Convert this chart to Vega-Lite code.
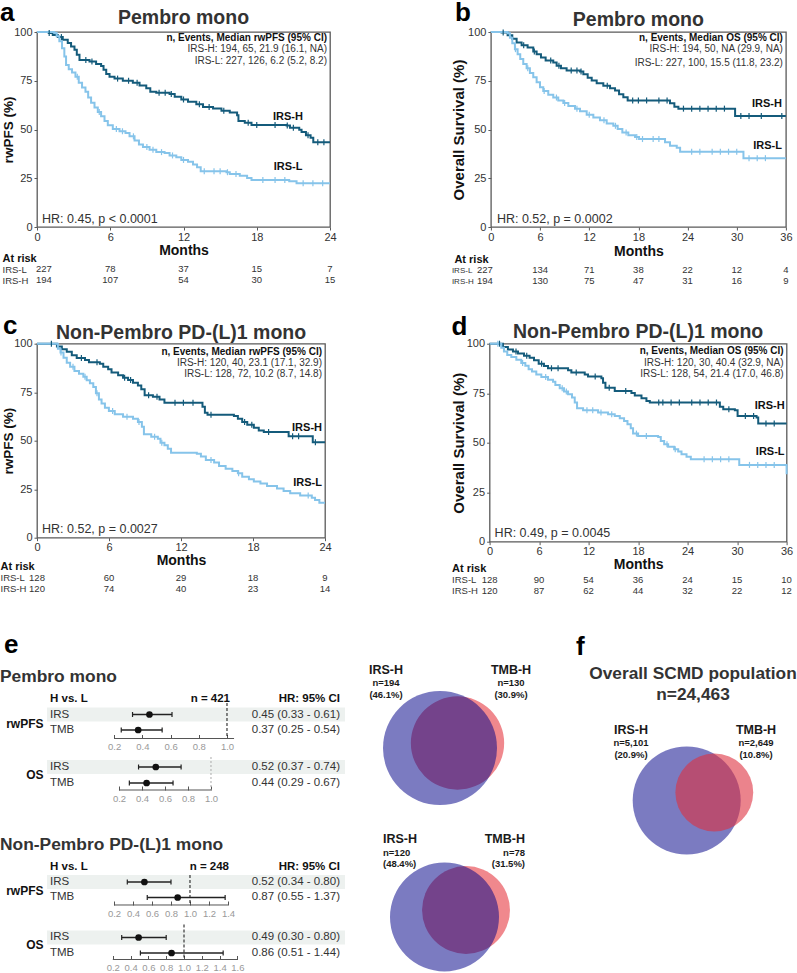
{
"$schema": "https://vega.github.io/schema/vega-lite/v6.json",
"background": "white",
"padding": {"left": 0, "top": 0, "right": 0, "bottom": 0},
"config": {
  "font": "Liberation Sans",
  "view": {"stroke": null},
  "axis": {"grid": false, "labelFont": "Liberation Sans", "titleFont": "Liberation Sans"},
  "title": {"font": "Liberation Sans"},
  "text": {"font": "Liberation Sans"}
},
"datasets": {
  "kmA": [
    {"g":"IRS-H","t":0,"s":100},{"g":"IRS-H","t":0.96,"s":99.5},{"g":"IRS-H","t":1.29,"s":98.5},{"g":"IRS-H","t":1.7,"s":97.4},{"g":"IRS-H","t":2.11,"s":96},{"g":"IRS-H","t":2.52,"s":94.3},{"g":"IRS-H","t":2.79,"s":92.6},{"g":"IRS-H","t":3.07,"s":90.9},{"g":"IRS-H","t":3.26,"s":88.3},{"g":"IRS-H","t":3.48,"s":85.7},{"g":"IRS-H","t":4.3,"s":84.9},{"g":"IRS-H","t":4.84,"s":83.6},{"g":"IRS-H","t":5.25,"s":82.6},{"g":"IRS-H","t":5.45,"s":80.6},{"g":"IRS-H","t":5.67,"s":78.5},{"g":"IRS-H","t":5.94,"s":77.1},{"g":"IRS-H","t":6.35,"s":76.1},{"g":"IRS-H","t":7.03,"s":75},{"g":"IRS-H","t":7.85,"s":74},{"g":"IRS-H","t":8.4,"s":72.6},{"g":"IRS-H","t":8.95,"s":71.1},{"g":"IRS-H","t":9.28,"s":69.4},{"g":"IRS-H","t":9.77,"s":68.8},{"g":"IRS-H","t":10.86,"s":68.2},{"g":"IRS-H","t":11.28,"s":66.8},{"g":"IRS-H","t":11.82,"s":65.4},{"g":"IRS-H","t":12.37,"s":64.2},{"g":"IRS-H","t":13.05,"s":63},{"g":"IRS-H","t":13.6,"s":61.6},{"g":"IRS-H","t":14.42,"s":60.8},{"g":"IRS-H","t":15.11,"s":59.6},{"g":"IRS-H","t":15.79,"s":58.7},{"g":"IRS-H","t":16.39,"s":57.3},{"g":"IRS-H","t":16.5,"s":54.4},{"g":"IRS-H","t":17.02,"s":53.4},{"g":"IRS-H","t":17.57,"s":52.3},{"g":"IRS-H","t":20.44,"s":52},{"g":"IRS-H","t":20.72,"s":50.9},{"g":"IRS-H","t":21.48,"s":49.9},{"g":"IRS-H","t":21.67,"s":48.7},{"g":"IRS-H","t":22.03,"s":47},{"g":"IRS-H","t":22.41,"s":45.8},{"g":"IRS-H","t":22.63,"s":43.5},{"g":"IRS-H","t":24,"s":43.5},
    {"g":"IRS-L","t":0,"s":100},{"g":"IRS-L","t":1.42,"s":99.5},{"g":"IRS-L","t":1.61,"s":97.8},{"g":"IRS-L","t":1.83,"s":95.2},{"g":"IRS-L","t":2.05,"s":91.7},{"g":"IRS-L","t":2.24,"s":87.4},{"g":"IRS-L","t":2.38,"s":83.1},{"g":"IRS-L","t":2.6,"s":80.9},{"g":"IRS-L","t":2.87,"s":79.2},{"g":"IRS-L","t":3.15,"s":77.1},{"g":"IRS-L","t":3.42,"s":74},{"g":"IRS-L","t":3.69,"s":71.6},{"g":"IRS-L","t":3.97,"s":69.4},{"g":"IRS-L","t":4.19,"s":66.4},{"g":"IRS-L","t":4.43,"s":63.7},{"g":"IRS-L","t":4.71,"s":61.3},{"g":"IRS-L","t":4.98,"s":59},{"g":"IRS-L","t":5.25,"s":56.8},{"g":"IRS-L","t":5.53,"s":54.4},{"g":"IRS-L","t":5.8,"s":52.2},{"g":"IRS-L","t":6.21,"s":50.3},{"g":"IRS-L","t":6.76,"s":49.1},{"g":"IRS-L","t":7.25,"s":48.2},{"g":"IRS-L","t":7.58,"s":46.5},{"g":"IRS-L","t":7.99,"s":44.4},{"g":"IRS-L","t":8.35,"s":42.3},{"g":"IRS-L","t":8.68,"s":41},{"g":"IRS-L","t":9.22,"s":39.6},{"g":"IRS-L","t":9.77,"s":38.4},{"g":"IRS-L","t":10.45,"s":37.9},{"g":"IRS-L","t":10.86,"s":36.7},{"g":"IRS-L","t":11.41,"s":35.8},{"g":"IRS-L","t":11.82,"s":34.4},{"g":"IRS-L","t":12.37,"s":33.4},{"g":"IRS-L","t":12.78,"s":32},{"g":"IRS-L","t":13.11,"s":30.6},{"g":"IRS-L","t":13.41,"s":28.6},{"g":"IRS-L","t":15.52,"s":28.1},{"g":"IRS-L","t":15.79,"s":27.2},{"g":"IRS-L","t":16.61,"s":26.3},{"g":"IRS-L","t":17.21,"s":25.1},{"g":"IRS-L","t":17.57,"s":24.1},{"g":"IRS-L","t":20.66,"s":23.4},{"g":"IRS-L","t":21.26,"s":22.4},{"g":"IRS-L","t":24,"s":22.4}
  ],
  "cA": [
    {"g":"IRS-H","t":1,"s":99.5},{"g":"IRS-H","t":2,"s":97.4},{"g":"IRS-H","t":4,"s":85.7},{"g":"IRS-H","t":4.5,"s":84.9},{"g":"IRS-H","t":6.6,"s":76.1},{"g":"IRS-H","t":7.5,"s":75},{"g":"IRS-H","t":8.2,"s":74},{"g":"IRS-H","t":10,"s":68.8},{"g":"IRS-H","t":10.5,"s":68.8},{"g":"IRS-H","t":11,"s":68.2},{"g":"IRS-H","t":12,"s":65.4},{"g":"IRS-H","t":13.3,"s":63},{"g":"IRS-H","t":14.1,"s":61.6},{"g":"IRS-H","t":15.3,"s":59.6},{"g":"IRS-H","t":17.3,"s":53.4},{"g":"IRS-H","t":18,"s":52.3},{"g":"IRS-H","t":19.5,"s":52.3},{"g":"IRS-H","t":20.5,"s":52},{"g":"IRS-H","t":21,"s":50.9},{"g":"IRS-H","t":22.2,"s":47},{"g":"IRS-H","t":23,"s":43.5},{"g":"IRS-H","t":23.5,"s":43.5},
    {"g":"IRS-L","t":3.3,"s":77.1},{"g":"IRS-L","t":5.1,"s":59},{"g":"IRS-L","t":6.5,"s":50.3},{"g":"IRS-L","t":7,"s":49.1},{"g":"IRS-L","t":7.9,"s":46.5},{"g":"IRS-L","t":9,"s":41},{"g":"IRS-L","t":9.5,"s":39.6},{"g":"IRS-L","t":10.2,"s":38.4},{"g":"IRS-L","t":11.1,"s":36.7},{"g":"IRS-L","t":12,"s":34.4},{"g":"IRS-L","t":13.7,"s":28.6},{"g":"IRS-L","t":14.5,"s":28.6},{"g":"IRS-L","t":15,"s":28.6},{"g":"IRS-L","t":15.6,"s":28.1},{"g":"IRS-L","t":16.3,"s":27.2},{"g":"IRS-L","t":18.5,"s":24.1},{"g":"IRS-L","t":19.5,"s":24.1},{"g":"IRS-L","t":20.3,"s":24.1},{"g":"IRS-L","t":21.8,"s":22.4},{"g":"IRS-L","t":22.6,"s":22.4},{"g":"IRS-L","t":23.4,"s":22.4}
  ],
  "kmB": [
    {"g":"IRS-H","t":0,"s":100},{"g":"IRS-H","t":1.3,"s":99.7},{"g":"IRS-H","t":2.04,"s":98.3},{"g":"IRS-H","t":2.61,"s":96.6},{"g":"IRS-H","t":3.14,"s":94.6},{"g":"IRS-H","t":3.75,"s":93.2},{"g":"IRS-H","t":4.48,"s":92},{"g":"IRS-H","t":5.17,"s":90},{"g":"IRS-H","t":5.58,"s":88.6},{"g":"IRS-H","t":6.11,"s":86.9},{"g":"IRS-H","t":6.68,"s":85.4},{"g":"IRS-H","t":7.61,"s":84.4},{"g":"IRS-H","t":8.02,"s":82.7},{"g":"IRS-H","t":8.55,"s":81.4},{"g":"IRS-H","t":9.24,"s":80.3},{"g":"IRS-H","t":10.87,"s":79.7},{"g":"IRS-H","t":11.28,"s":78.3},{"g":"IRS-H","t":11.81,"s":76.6},{"g":"IRS-H","t":12.3,"s":75.1},{"g":"IRS-H","t":12.91,"s":73.7},{"g":"IRS-H","t":13.72,"s":72.5},{"g":"IRS-H","t":14.54,"s":71.2},{"g":"IRS-H","t":15.15,"s":70},{"g":"IRS-H","t":15.64,"s":68.1},{"g":"IRS-H","t":16.16,"s":66.6},{"g":"IRS-H","t":16.69,"s":64.9},{"g":"IRS-H","t":21.86,"s":63.4},{"g":"IRS-H","t":22.39,"s":61.7},{"g":"IRS-H","t":22.88,"s":60.7},{"g":"IRS-H","t":29.8,"s":56.9},{"g":"IRS-H","t":36,"s":56.9},
    {"g":"IRS-L","t":0,"s":100},{"g":"IRS-L","t":2.04,"s":99.3},{"g":"IRS-L","t":2.32,"s":97.1},{"g":"IRS-L","t":2.61,"s":94.2},{"g":"IRS-L","t":2.93,"s":91.2},{"g":"IRS-L","t":3.26,"s":88.6},{"g":"IRS-L","t":3.58,"s":86.1},{"g":"IRS-L","t":3.95,"s":83.6},{"g":"IRS-L","t":4.36,"s":81.4},{"g":"IRS-L","t":4.76,"s":79},{"g":"IRS-L","t":5.17,"s":76.8},{"g":"IRS-L","t":5.58,"s":74.2},{"g":"IRS-L","t":5.99,"s":71.7},{"g":"IRS-L","t":6.39,"s":69.7},{"g":"IRS-L","t":7,"s":67.8},{"g":"IRS-L","t":7.61,"s":66.4},{"g":"IRS-L","t":8.22,"s":64.9},{"g":"IRS-L","t":8.84,"s":63.6},{"g":"IRS-L","t":9.45,"s":62},{"g":"IRS-L","t":10.26,"s":60.7},{"g":"IRS-L","t":10.87,"s":59.3},{"g":"IRS-L","t":11.69,"s":57.6},{"g":"IRS-L","t":12.5,"s":56.1},{"g":"IRS-L","t":13.31,"s":54.7},{"g":"IRS-L","t":14.13,"s":53.1},{"g":"IRS-L","t":14.94,"s":51.9},{"g":"IRS-L","t":15.47,"s":50.2},{"g":"IRS-L","t":16.04,"s":48.5},{"g":"IRS-L","t":16.77,"s":47.1},{"g":"IRS-L","t":17.59,"s":46.1},{"g":"IRS-L","t":18.08,"s":45.1},{"g":"IRS-L","t":21.25,"s":43.4},{"g":"IRS-L","t":21.86,"s":41.7},{"g":"IRS-L","t":22.68,"s":40.7},{"g":"IRS-L","t":23.09,"s":38.6},{"g":"IRS-L","t":30.82,"s":35.3},{"g":"IRS-L","t":36,"s":35.3}
  ],
  "cB": [
    {"g":"IRS-H","t":1.5,"s":99.7},{"g":"IRS-H","t":4,"s":93.2},{"g":"IRS-H","t":5.3,"s":90},{"g":"IRS-H","t":7.3,"s":85.4},{"g":"IRS-H","t":8.3,"s":82.7},{"g":"IRS-H","t":9.8,"s":80.3},{"g":"IRS-H","t":10.5,"s":80.3},{"g":"IRS-H","t":11,"s":79.7},{"g":"IRS-H","t":14.2,"s":72.5},{"g":"IRS-H","t":17.3,"s":64.9},{"g":"IRS-H","t":18,"s":64.9},{"g":"IRS-H","t":19,"s":64.9},{"g":"IRS-H","t":20.5,"s":64.9},{"g":"IRS-H","t":21.5,"s":64.9},{"g":"IRS-H","t":23.5,"s":60.7},{"g":"IRS-H","t":24.5,"s":60.7},{"g":"IRS-H","t":25.5,"s":60.7},{"g":"IRS-H","t":26.5,"s":60.7},{"g":"IRS-H","t":27.5,"s":60.7},{"g":"IRS-H","t":28.5,"s":60.7},{"g":"IRS-H","t":30.5,"s":56.9},{"g":"IRS-H","t":31.5,"s":56.9},{"g":"IRS-H","t":33,"s":56.9},{"g":"IRS-H","t":35.5,"s":56.9},
    {"g":"IRS-L","t":3,"s":91.2},{"g":"IRS-L","t":4.5,"s":81.4},{"g":"IRS-L","t":6.5,"s":69.7},{"g":"IRS-L","t":8,"s":66.4},{"g":"IRS-L","t":9,"s":63.6},{"g":"IRS-L","t":10.5,"s":60.7},{"g":"IRS-L","t":12,"s":57.6},{"g":"IRS-L","t":13.8,"s":54.7},{"g":"IRS-L","t":15.2,"s":51.9},{"g":"IRS-L","t":16.5,"s":48.5},{"g":"IRS-L","t":17.8,"s":46.1},{"g":"IRS-L","t":18.5,"s":45.1},{"g":"IRS-L","t":19.8,"s":45.1},{"g":"IRS-L","t":20.5,"s":45.1},{"g":"IRS-L","t":24.5,"s":38.6},{"g":"IRS-L","t":25.5,"s":38.6},{"g":"IRS-L","t":27,"s":38.6},{"g":"IRS-L","t":28,"s":38.6},{"g":"IRS-L","t":29,"s":38.6},{"g":"IRS-L","t":30,"s":38.6},{"g":"IRS-L","t":31.5,"s":35.3},{"g":"IRS-L","t":32.5,"s":35.3},{"g":"IRS-L","t":33.5,"s":35.3}
  ],
  "kmC": [
    {"g":"IRS-H","t":0,"s":100},{"g":"IRS-H","t":1.66,"s":98.5},{"g":"IRS-H","t":2.07,"s":97.1},{"g":"IRS-H","t":2.48,"s":95.9},{"g":"IRS-H","t":2.9,"s":94},{"g":"IRS-H","t":3.31,"s":92.6},{"g":"IRS-H","t":4,"s":91.6},{"g":"IRS-H","t":4.33,"s":90.5},{"g":"IRS-H","t":5.24,"s":89.7},{"g":"IRS-H","t":5.52,"s":88.1},{"g":"IRS-H","t":5.93,"s":86.8},{"g":"IRS-H","t":6.21,"s":85.1},{"g":"IRS-H","t":6.76,"s":83.7},{"g":"IRS-H","t":7.17,"s":82.5},{"g":"IRS-H","t":7.59,"s":81.3},{"g":"IRS-H","t":8,"s":79.9},{"g":"IRS-H","t":8.41,"s":78.5},{"g":"IRS-H","t":8.69,"s":76.5},{"g":"IRS-H","t":8.97,"s":73.4},{"g":"IRS-H","t":9.66,"s":72.7},{"g":"IRS-H","t":10.21,"s":71.3},{"g":"IRS-H","t":10.62,"s":69.6},{"g":"IRS-H","t":13.79,"s":67.5},{"g":"IRS-H","t":13.99,"s":64.4},{"g":"IRS-H","t":14.21,"s":63.4},{"g":"IRS-H","t":16.41,"s":62.7},{"g":"IRS-H","t":16.74,"s":61.3},{"g":"IRS-H","t":17.1,"s":59.6},{"g":"IRS-H","t":17.52,"s":58.2},{"g":"IRS-H","t":18.07,"s":56.7},{"g":"IRS-H","t":18.48,"s":55.3},{"g":"IRS-H","t":18.9,"s":54.5},{"g":"IRS-H","t":20.97,"s":52.3},{"g":"IRS-H","t":22.98,"s":49.2},{"g":"IRS-H","t":24,"s":49.2},
    {"g":"IRS-L","t":0,"s":100},{"g":"IRS-L","t":1.74,"s":97.4},{"g":"IRS-L","t":1.96,"s":95.4},{"g":"IRS-L","t":2.21,"s":92.8},{"g":"IRS-L","t":2.48,"s":90.2},{"g":"IRS-L","t":2.76,"s":88.1},{"g":"IRS-L","t":3.12,"s":85.9},{"g":"IRS-L","t":3.5,"s":84.5},{"g":"IRS-L","t":3.86,"s":83},{"g":"IRS-L","t":4.14,"s":81.1},{"g":"IRS-L","t":4.41,"s":79.6},{"g":"IRS-L","t":4.69,"s":77.7},{"g":"IRS-L","t":4.91,"s":74.4},{"g":"IRS-L","t":5.16,"s":71.3},{"g":"IRS-L","t":5.38,"s":69.2},{"g":"IRS-L","t":5.66,"s":67},{"g":"IRS-L","t":5.99,"s":65.3},{"g":"IRS-L","t":6.48,"s":63.6},{"g":"IRS-L","t":7.17,"s":62.4},{"g":"IRS-L","t":8,"s":61.3},{"g":"IRS-L","t":8.41,"s":59.6},{"g":"IRS-L","t":8.74,"s":57.2},{"g":"IRS-L","t":8.91,"s":53.3},{"g":"IRS-L","t":9.52,"s":52.1},{"g":"IRS-L","t":10.07,"s":51},{"g":"IRS-L","t":10.29,"s":49},{"g":"IRS-L","t":10.62,"s":47.6},{"g":"IRS-L","t":10.9,"s":45.9},{"g":"IRS-L","t":11.17,"s":43.8},{"g":"IRS-L","t":13.32,"s":43.3},{"g":"IRS-L","t":13.66,"s":41.8},{"g":"IRS-L","t":14.07,"s":40},{"g":"IRS-L","t":14.76,"s":38.7},{"g":"IRS-L","t":15.17,"s":36.9},{"g":"IRS-L","t":15.72,"s":35.6},{"g":"IRS-L","t":16.28,"s":34.4},{"g":"IRS-L","t":16.74,"s":33.2},{"g":"IRS-L","t":17.1,"s":31.4},{"g":"IRS-L","t":17.66,"s":30.1},{"g":"IRS-L","t":18.07,"s":29},{"g":"IRS-L","t":18.62,"s":28},{"g":"IRS-L","t":19.17,"s":26.6},{"g":"IRS-L","t":20,"s":25.3},{"g":"IRS-L","t":20.55,"s":24.1},{"g":"IRS-L","t":21.1,"s":22.9},{"g":"IRS-L","t":21.93,"s":21.8},{"g":"IRS-L","t":22.9,"s":20.6},{"g":"IRS-L","t":23.17,"s":19.4},{"g":"IRS-L","t":23.53,"s":18},{"g":"IRS-L","t":24,"s":18}
  ],
  "cC": [
    {"g":"IRS-H","t":1.2,"s":100},{"g":"IRS-H","t":3.7,"s":92.6},{"g":"IRS-H","t":5,"s":90.5},{"g":"IRS-H","t":7.3,"s":82.5},{"g":"IRS-H","t":7.8,"s":81.3},{"g":"IRS-H","t":9.3,"s":73.4},{"g":"IRS-H","t":10,"s":72.7},{"g":"IRS-H","t":11.5,"s":69.6},{"g":"IRS-H","t":12.2,"s":69.6},{"g":"IRS-H","t":13,"s":69.6},{"g":"IRS-H","t":14.5,"s":63.4},{"g":"IRS-H","t":17.3,"s":59.6},{"g":"IRS-H","t":17.9,"s":58.2},{"g":"IRS-H","t":19.3,"s":54.5},{"g":"IRS-H","t":21.3,"s":52.3},{"g":"IRS-H","t":21.8,"s":52.3},{"g":"IRS-H","t":23.2,"s":49.2},
    {"g":"IRS-L","t":2,"s":95.4},{"g":"IRS-L","t":3,"s":88.1},{"g":"IRS-L","t":4,"s":83},{"g":"IRS-L","t":5,"s":74.4},{"g":"IRS-L","t":6.3,"s":65.3},{"g":"IRS-L","t":7.5,"s":62.4},{"g":"IRS-L","t":8.5,"s":59.6},{"g":"IRS-L","t":9.8,"s":52.1},{"g":"IRS-L","t":10.4,"s":49},{"g":"IRS-L","t":14.5,"s":40},{"g":"IRS-L","t":16.8,"s":33.2},{"g":"IRS-L","t":22.6,"s":21.8}
  ],
  "kmD": [
    {"g":"IRS-H","t":0,"s":100},{"g":"IRS-H","t":1.62,"s":98.3},{"g":"IRS-H","t":2.22,"s":97.1},{"g":"IRS-H","t":2.83,"s":96},{"g":"IRS-H","t":3.44,"s":95},{"g":"IRS-H","t":4.17,"s":93.9},{"g":"IRS-H","t":4.85,"s":92.9},{"g":"IRS-H","t":5.38,"s":91.6},{"g":"IRS-H","t":5.95,"s":89.9},{"g":"IRS-H","t":6.59,"s":88.7},{"g":"IRS-H","t":7.08,"s":87.6},{"g":"IRS-H","t":9.51,"s":86.6},{"g":"IRS-H","t":9.91,"s":85.4},{"g":"IRS-H","t":11.53,"s":84.5},{"g":"IRS-H","t":11.93,"s":83.4},{"g":"IRS-H","t":13.55,"s":82.5},{"g":"IRS-H","t":13.75,"s":80.3},{"g":"IRS-H","t":14.04,"s":77.8},{"g":"IRS-H","t":15.17,"s":76.1},{"g":"IRS-H","t":17.19,"s":75.1},{"g":"IRS-H","t":17.6,"s":73.8},{"g":"IRS-H","t":18.41,"s":72.4},{"g":"IRS-H","t":19.01,"s":71.1},{"g":"IRS-H","t":19.42,"s":70.3},{"g":"IRS-H","t":27.91,"s":68.1},{"g":"IRS-H","t":28.32,"s":66.9},{"g":"IRS-H","t":29.73,"s":66.4},{"g":"IRS-H","t":30.06,"s":63.5},{"g":"IRS-H","t":32.36,"s":62.7},{"g":"IRS-H","t":32.56,"s":59.7},{"g":"IRS-H","t":36,"s":59.7},
    {"g":"IRS-L","t":0,"s":100},{"g":"IRS-L","t":1.42,"s":98},{"g":"IRS-L","t":1.74,"s":96},{"g":"IRS-L","t":2.14,"s":94.3},{"g":"IRS-L","t":2.63,"s":93.3},{"g":"IRS-L","t":3.24,"s":91.9},{"g":"IRS-L","t":3.84,"s":90.3},{"g":"IRS-L","t":4.33,"s":88.9},{"g":"IRS-L","t":4.73,"s":87.1},{"g":"IRS-L","t":5.14,"s":85.9},{"g":"IRS-L","t":5.66,"s":84.5},{"g":"IRS-L","t":6.27,"s":83.2},{"g":"IRS-L","t":7.08,"s":81.8},{"g":"IRS-L","t":7.69,"s":80.8},{"g":"IRS-L","t":7.97,"s":79.2},{"g":"IRS-L","t":8.5,"s":77.5},{"g":"IRS-L","t":9.02,"s":75.8},{"g":"IRS-L","t":9.51,"s":74.5},{"g":"IRS-L","t":9.99,"s":72.8},{"g":"IRS-L","t":10.32,"s":70.3},{"g":"IRS-L","t":10.6,"s":67.4},{"g":"IRS-L","t":11.33,"s":66.4},{"g":"IRS-L","t":13.15,"s":65.2},{"g":"IRS-L","t":14.36,"s":64.4},{"g":"IRS-L","t":15.17,"s":63.5},{"g":"IRS-L","t":15.78,"s":62.4},{"g":"IRS-L","t":16.3,"s":61},{"g":"IRS-L","t":16.71,"s":59.3},{"g":"IRS-L","t":17.11,"s":57.3},{"g":"IRS-L","t":17.39,"s":54.6},{"g":"IRS-L","t":18,"s":53.4},{"g":"IRS-L","t":20.43,"s":52.9},{"g":"IRS-L","t":20.75,"s":50.9},{"g":"IRS-L","t":21.16,"s":49.2},{"g":"IRS-L","t":21.64,"s":47.9},{"g":"IRS-L","t":22.37,"s":46.7},{"g":"IRS-L","t":22.86,"s":45.5},{"g":"IRS-L","t":23.26,"s":44.2},{"g":"IRS-L","t":23.87,"s":42.9},{"g":"IRS-L","t":24.39,"s":41.7},{"g":"IRS-L","t":30.26,"s":38.8},{"g":"IRS-L","t":36,"s":34.1}
  ],
  "cD": [
    {"g":"IRS-H","t":1.2,"s":100},{"g":"IRS-H","t":3.2,"s":96},{"g":"IRS-H","t":4.5,"s":93.9},{"g":"IRS-H","t":6.3,"s":89.9},{"g":"IRS-H","t":7.5,"s":87.6},{"g":"IRS-H","t":8.3,"s":87.6},{"g":"IRS-H","t":10.5,"s":85.4},{"g":"IRS-H","t":12.8,"s":83.4},{"g":"IRS-H","t":14.5,"s":77.8},{"g":"IRS-H","t":16.5,"s":76.1},{"g":"IRS-H","t":20.5,"s":70.3},{"g":"IRS-H","t":21,"s":70.3},{"g":"IRS-H","t":22,"s":70.3},{"g":"IRS-H","t":23,"s":70.3},{"g":"IRS-H","t":24.5,"s":70.3},{"g":"IRS-H","t":25.5,"s":70.3},{"g":"IRS-H","t":26.5,"s":70.3},{"g":"IRS-H","t":27.5,"s":70.3},{"g":"IRS-H","t":29,"s":66.9},{"g":"IRS-H","t":31,"s":63.5},{"g":"IRS-H","t":32,"s":63.5},{"g":"IRS-H","t":33.5,"s":59.7},{"g":"IRS-H","t":34.5,"s":59.7},
    {"g":"IRS-L","t":1,"s":100},{"g":"IRS-L","t":4,"s":90.3},{"g":"IRS-L","t":6.8,"s":83.2},{"g":"IRS-L","t":8.8,"s":77.5},{"g":"IRS-L","t":9.3,"s":75.8},{"g":"IRS-L","t":11.8,"s":66.4},{"g":"IRS-L","t":12.5,"s":66.4},{"g":"IRS-L","t":13.5,"s":65.2},{"g":"IRS-L","t":14.8,"s":64.4},{"g":"IRS-L","t":17.8,"s":54.6},{"g":"IRS-L","t":19,"s":53.4},{"g":"IRS-L","t":21.5,"s":49.2},{"g":"IRS-L","t":22.5,"s":46.7},{"g":"IRS-L","t":26,"s":41.7},{"g":"IRS-L","t":27,"s":41.7},{"g":"IRS-L","t":28,"s":41.7},{"g":"IRS-L","t":29,"s":41.7},{"g":"IRS-L","t":31.5,"s":38.8},{"g":"IRS-L","t":32.5,"s":38.8},{"g":"IRS-L","t":33.5,"s":38.8},{"g":"IRS-L","t":34.5,"s":38.8}
  ],
  "riskA": [
    {"g":"IRS-L","t":0,"n":227},{"g":"IRS-L","t":6,"n":78},{"g":"IRS-L","t":12,"n":37},{"g":"IRS-L","t":18,"n":15},{"g":"IRS-L","t":24,"n":7},
    {"g":"IRS-H","t":0,"n":194},{"g":"IRS-H","t":6,"n":107},{"g":"IRS-H","t":12,"n":54},{"g":"IRS-H","t":18,"n":30},{"g":"IRS-H","t":24,"n":15}
  ],
  "riskB": [
    {"g":"IRS-L","t":0,"n":227},{"g":"IRS-L","t":6,"n":134},{"g":"IRS-L","t":12,"n":71},{"g":"IRS-L","t":18,"n":38},{"g":"IRS-L","t":24,"n":22},{"g":"IRS-L","t":30,"n":12},{"g":"IRS-L","t":36,"n":4},
    {"g":"IRS-H","t":0,"n":194},{"g":"IRS-H","t":6,"n":130},{"g":"IRS-H","t":12,"n":75},{"g":"IRS-H","t":18,"n":47},{"g":"IRS-H","t":24,"n":31},{"g":"IRS-H","t":30,"n":16},{"g":"IRS-H","t":36,"n":9}
  ],
  "riskC": [
    {"g":"IRS-L","t":0,"n":128},{"g":"IRS-L","t":6,"n":60},{"g":"IRS-L","t":12,"n":29},{"g":"IRS-L","t":18,"n":18},{"g":"IRS-L","t":24,"n":9},
    {"g":"IRS-H","t":0,"n":120},{"g":"IRS-H","t":6,"n":74},{"g":"IRS-H","t":12,"n":40},{"g":"IRS-H","t":18,"n":23},{"g":"IRS-H","t":24,"n":14}
  ],
  "riskD": [
    {"g":"IRS-L","t":0,"n":128},{"g":"IRS-L","t":6,"n":90},{"g":"IRS-L","t":12,"n":54},{"g":"IRS-L","t":18,"n":36},{"g":"IRS-L","t":24,"n":24},{"g":"IRS-L","t":30,"n":15},{"g":"IRS-L","t":36,"n":10},
    {"g":"IRS-H","t":0,"n":120},{"g":"IRS-H","t":6,"n":87},{"g":"IRS-H","t":12,"n":62},{"g":"IRS-H","t":18,"n":44},{"g":"IRS-H","t":24,"n":32},{"g":"IRS-H","t":30,"n":22},{"g":"IRS-H","t":36,"n":12}
  ],
  "fPR": [{"row":"IRS","hr":0.45,"lo":0.33,"hi":0.61,"ci":"0.45 (0.33 - 0.61)"},{"row":"TMB","hr":0.37,"lo":0.25,"hi":0.54,"ci":"0.37 (0.25 - 0.54)"}],
  "fPO": [{"row":"IRS","hr":0.52,"lo":0.37,"hi":0.74,"ci":"0.52 (0.37 - 0.74)"},{"row":"TMB","hr":0.44,"lo":0.29,"hi":0.67,"ci":"0.44 (0.29 - 0.67)"}],
  "fNR": [{"row":"IRS","hr":0.52,"lo":0.34,"hi":0.8,"ci":"0.52 (0.34 - 0.80)"},{"row":"TMB","hr":0.87,"lo":0.55,"hi":1.37,"ci":"0.87 (0.55 - 1.37)"}],
  "fNO": [{"row":"IRS","hr":0.49,"lo":0.3,"hi":0.8,"ci":"0.49 (0.30 - 0.80)"},{"row":"TMB","hr":0.86,"lo":0.51,"hi":1.44,"ci":"0.86 (0.51 - 1.44)"}],
  "vE": [
    {"d":"e1","set":"IRS-H","n":194,"cx":80,"cy":57.5,"nl":"n=194","pct":"(46.1%)"},{"d":"e1","set":"TMB-H","n":130,"cx":97.5,"cy":52.5,"nl":"n=130","pct":"(30.9%)"},
    {"d":"e2","set":"IRS-H","n":120,"cx":84.5,"cy":226.5,"nl":"n=120","pct":"(48.4%)"},{"d":"e2","set":"TMB-H","n":78,"cx":106,"cy":219.5,"nl":"n=78","pct":"(31.5%)"}
  ],
  "vF": [{"set":"IRS-H","n":5101,"cx":121.7,"cy":110,"nl":"n=5,101","pct":"(20.9%)"},{"set":"TMB-H","n":2649,"cx":149.3,"cy":102,"nl":"n=2,649","pct":"(10.8%)"}]
},
"resolve": {"scale": {"size": "independent"}},
"spacing": 35.5,
"vconcat": [
 {"spacing": 25.7, "vconcat": [
  {"spacing": 113.9, "hconcat": [
   {"bounds": "flush", "spacing": 36.8,
    "title": {"text": "a", "anchor": "start", "frame": "group", "dx": -37, "offset": -40.3, "baseline": "alphabetic", "fontSize": 26, "fontWeight": "bold", "color": "#000000"},
    "vconcat": [
     {"width": 293, "height": 195,
      "view": {"stroke": "#5a5a5a", "strokeWidth": 1.3},
      "title": {"text": "Pembro mono", "anchor": "middle", "frame": "group", "baseline": "alphabetic", "offset": -17.2, "fontSize": 19.5, "fontWeight": "bold", "color": "#333333"},
      "layer": [
       {"data": {"name": "kmA"}, "mark": {"type": "line", "interpolate": "step-after", "strokeWidth": 2},
        "encoding": {
         "x": {"field": "t", "type": "quantitative", "scale": {"domain": [0, 24], "nice": false, "zero": false},
               "axis": {"values": [0, 6, 12, 18, 24], "title": "Months", "titleFontSize": 14, "titleFontWeight": "bold", "titleColor": "#111111", "titlePadding": 1, "labelFontSize": 11, "labelColor": "#333333", "labelPadding": 1, "tickSize": 3, "tickColor": "#5a5a5a", "domain": false, "labelFlush": false, "labelOverlap": false}},
         "y": {"field": "s", "type": "quantitative", "scale": {"domain": [0, 100], "nice": false},
               "axis": {"values": [0, 25, 50, 75, 100], "title": "rwPFS (%)", "titleFontSize": 13.5, "titleFontWeight": "bold", "titleColor": "#111111", "titleX": -29, "titleBaseline": "middle", "labelFontSize": 11, "labelColor": "#333333", "labelPadding": 2, "tickSize": 3, "tickColor": "#5a5a5a", "domain": false}},
         "color": {"field": "g", "type": "nominal", "scale": {"domain": ["IRS-H", "IRS-L"], "range": ["#145b7b", "#86c4ea"]}, "legend": null}}},
       {"data": {"name": "cA"}, "mark": {"type": "tick", "orient": "vertical", "size": 6, "thickness": 1.2, "opacity": 1},
        "encoding": {"x": {"field": "t", "type": "quantitative"}, "y": {"field": "s", "type": "quantitative"}, "color": {"field": "g", "type": "nominal", "legend": null}}},
       {"data": {"values": [{}]}, "mark": {"type": "text", "align": "right", "baseline": "middle", "fontSize": 10, "fontWeight": "bold", "color": "#111111", "dx": -3},
        "encoding": {"x": {"datum": 24}, "y": {"datum": 96.8}, "text": {"value": "n, Events, Median rwPFS  (95% CI)"}}},
       {"data": {"values": [{}]}, "mark": {"type": "text", "align": "right", "baseline": "middle", "fontSize": 10, "color": "#333333", "dx": -3},
        "encoding": {"x": {"datum": 24}, "y": {"datum": 91.1}, "text": {"value": "IRS-H: 194, 65, 21.9 (16.1, NA)"}}},
       {"data": {"values": [{}]}, "mark": {"type": "text", "align": "right", "baseline": "middle", "fontSize": 10, "color": "#333333", "dx": -3},
        "encoding": {"x": {"datum": 24}, "y": {"datum": 85.1}, "text": {"value": "IRS-L: 227, 126, 6.2 (5.2, 8.2)"}}},
       {"data": {"values": [{}]}, "mark": {"type": "text", "align": "left", "baseline": "middle", "fontSize": 12.5, "color": "#333333", "dx": 5},
        "encoding": {"x": {"datum": 0}, "y": {"datum": 3.9}, "text": {"value": "HR: 0.45, p < 0.0001"}}},
       {"data": {"values": [{}]}, "mark": {"type": "text", "align": "center", "baseline": "middle", "fontSize": 11, "fontWeight": "bold", "color": "#111111"},
        "encoding": {"x": {"datum": 20.56}, "y": {"datum": 56.4}, "text": {"value": "IRS-H"}}},
       {"data": {"values": [{}]}, "mark": {"type": "text", "align": "center", "baseline": "middle", "fontSize": 11, "fontWeight": "bold", "color": "#111111"},
        "encoding": {"x": {"datum": 20.56}, "y": {"datum": 30.9}, "text": {"value": "IRS-L"}}}
      ]},
     {"width": 293, "height": 22, "data": {"name": "riskA"},
      "layer": [
       {"transform": [{"filter": "datum.t > 0"}], "mark": {"type": "text", "fontSize": 9.5, "color": "#333333", "baseline": "middle", "align": "center"},
        "encoding": {
         "x": {"field": "t", "type": "quantitative", "scale": {"domain": [0, 24], "nice": false, "zero": false}, "axis": null},
         "y": {"field": "g", "type": "nominal", "scale": {"type": "point", "domain": ["IRS-L", "IRS-H"], "padding": 0.5},
               "axis": {"title": "At risk", "titleAngle": 0, "titleAlign": "left", "titleBaseline": "middle", "titleX": -35, "titleY": -5.5, "titleFontSize": 11, "titleFontWeight": "bold", "titleColor": "#111111", "labelAlign": "left", "labelBaseline": "middle", "labelPadding": 35, "labelFontSize": 9.5, "labelColor": "#333333", "ticks": false, "tickSize": 0, "domain": false}},
         "text": {"field": "n", "type": "quantitative"}}},
       {"transform": [{"filter": "datum.t == 0"}], "mark": {"type": "text", "fontSize": 9.5, "color": "#333333", "baseline": "middle", "align": "left", "dx": -1},
        "encoding": {"x": {"field": "t", "type": "quantitative", "axis": null}, "y": {"field": "g", "type": "nominal"}, "text": {"field": "n", "type": "quantitative"}}}
      ]}
    ]},
   {"bounds": "flush", "spacing": 37.5,
    "title": {"text": "b", "anchor": "start", "frame": "group", "dx": -36, "offset": -38, "baseline": "alphabetic", "fontSize": 26, "fontWeight": "bold", "color": "#000000"},
    "vconcat": [
     {"width": 295, "height": 195,
      "view": {"stroke": "#5a5a5a", "strokeWidth": 1.3},
      "title": {"text": "Pembro mono", "anchor": "middle", "frame": "group", "baseline": "alphabetic", "offset": -19.5, "fontSize": 19.5, "fontWeight": "bold", "color": "#333333"},
      "layer": [
       {"data": {"name": "kmB"}, "mark": {"type": "line", "interpolate": "step-after", "strokeWidth": 2},
        "encoding": {
         "x": {"field": "t", "type": "quantitative", "scale": {"domain": [0, 36], "nice": false, "zero": false},
               "axis": {"values": [0, 6, 12, 18, 24, 30, 36], "title": "Months", "titleFontSize": 14, "titleFontWeight": "bold", "titleColor": "#111111", "titlePadding": 2, "labelFontSize": 11, "labelColor": "#333333", "labelPadding": 1, "tickSize": 3, "tickColor": "#5a5a5a", "domain": false, "labelFlush": false, "labelOverlap": false}},
         "y": {"field": "s", "type": "quantitative", "scale": {"domain": [0, 100], "nice": false},
               "axis": {"values": [0, 25, 50, 75, 100], "title": "Overall Survival (%)", "titleFontSize": 15, "titleFontWeight": "bold", "titleColor": "#111111", "titleX": -32.3, "titleBaseline": "middle", "labelFontSize": 11, "labelColor": "#333333", "labelPadding": 2, "tickSize": 3, "tickColor": "#5a5a5a", "domain": false}},
         "color": {"field": "g", "type": "nominal", "scale": {"domain": ["IRS-H", "IRS-L"], "range": ["#145b7b", "#86c4ea"]}, "legend": null}}},
       {"data": {"name": "cB"}, "mark": {"type": "tick", "orient": "vertical", "size": 6, "thickness": 1.2, "opacity": 1},
        "encoding": {"x": {"field": "t", "type": "quantitative"}, "y": {"field": "s", "type": "quantitative"}, "color": {"field": "g", "type": "nominal", "legend": null}}},
       {"data": {"values": [{}]}, "mark": {"type": "text", "align": "right", "baseline": "middle", "fontSize": 10, "fontWeight": "bold", "color": "#111111", "dx": -3},
        "encoding": {"x": {"datum": 36}, "y": {"datum": 97.1}, "text": {"value": "n, Events, Median OS (95% CI)"}}},
       {"data": {"values": [{}]}, "mark": {"type": "text", "align": "right", "baseline": "middle", "fontSize": 10, "color": "#333333", "dx": -3},
        "encoding": {"x": {"datum": 36}, "y": {"datum": 91.1}, "text": {"value": "IRS-H: 194, 50, NA (29.9, NA)"}}},
       {"data": {"values": [{}]}, "mark": {"type": "text", "align": "right", "baseline": "middle", "fontSize": 10, "color": "#333333", "dx": -3},
        "encoding": {"x": {"datum": 36}, "y": {"datum": 84.3}, "text": {"value": "IRS-L: 227, 100, 15.5 (11.8, 23.2)"}}},
       {"data": {"values": [{}]}, "mark": {"type": "text", "align": "left", "baseline": "middle", "fontSize": 12.5, "color": "#333333", "dx": 6},
        "encoding": {"x": {"datum": 0}, "y": {"datum": 3.9}, "text": {"value": "HR: 0.52, p = 0.0002"}}},
       {"data": {"values": [{}]}, "mark": {"type": "text", "align": "right", "baseline": "middle", "fontSize": 11, "fontWeight": "bold", "color": "#111111", "dx": -4},
        "encoding": {"x": {"datum": 36}, "y": {"datum": 63.2}, "text": {"value": "IRS-H"}}},
       {"data": {"values": [{}]}, "mark": {"type": "text", "align": "right", "baseline": "middle", "fontSize": 11, "fontWeight": "bold", "color": "#111111", "dx": -4},
        "encoding": {"x": {"datum": 36}, "y": {"datum": 41.5}, "text": {"value": "IRS-L"}}}
      ]},
     {"width": 295, "height": 22, "data": {"name": "riskB"},
      "layer": [
       {"transform": [{"filter": "datum.t > 0"}], "mark": {"type": "text", "fontSize": 9.5, "color": "#333333", "baseline": "middle", "align": "center"},
        "encoding": {
         "x": {"field": "t", "type": "quantitative", "scale": {"domain": [0, 36], "nice": false, "zero": false}, "axis": null},
         "y": {"field": "g", "type": "nominal", "scale": {"type": "point", "domain": ["IRS-L", "IRS-H"], "padding": 0.5},
               "axis": {"title": "At risk", "titleAngle": 0, "titleAlign": "left", "titleBaseline": "middle", "titleX": -37, "titleY": -5.5, "titleFontSize": 11, "titleFontWeight": "bold", "titleColor": "#111111", "labelAlign": "left", "labelBaseline": "middle", "labelPadding": 39.5, "labelFontSize": 8, "labelColor": "#333333", "ticks": false, "tickSize": 0, "domain": false}},
         "text": {"field": "n", "type": "quantitative"}}},
       {"transform": [{"filter": "datum.t == 0"}], "mark": {"type": "text", "fontSize": 9.5, "color": "#333333", "baseline": "middle", "align": "right", "dx": 2},
        "encoding": {"x": {"field": "t", "type": "quantitative", "axis": null}, "y": {"field": "g", "type": "nominal"}, "text": {"field": "n", "type": "quantitative"}}}
      ]}
    ]}
  ]},
  {"spacing": 118.6, "hconcat": [
   {"bounds": "flush", "spacing": 34.7,
    "title": {"text": "c", "anchor": "start", "frame": "group", "dx": -34, "offset": -37, "baseline": "alphabetic", "fontSize": 26, "fontWeight": "bold", "color": "#000000"},
    "vconcat": [
     {"width": 288, "height": 194,
      "view": {"stroke": "#5a5a5a", "strokeWidth": 1.3},
      "title": {"text": "Non-Pembro PD-(L)1 mono", "anchor": "middle", "frame": "group", "baseline": "alphabetic", "offset": -21.2, "fontSize": 19.5, "fontWeight": "bold", "color": "#333333"},
      "layer": [
       {"data": {"name": "kmC"}, "mark": {"type": "line", "interpolate": "step-after", "strokeWidth": 2},
        "encoding": {
         "x": {"field": "t", "type": "quantitative", "scale": {"domain": [0, 24], "nice": false, "zero": false},
               "axis": {"values": [0, 6, 12, 18, 24], "title": "Months", "titleFontSize": 14, "titleFontWeight": "bold", "titleColor": "#111111", "titlePadding": 1, "labelFontSize": 11, "labelColor": "#333333", "labelPadding": 1, "tickSize": 3, "tickColor": "#5a5a5a", "domain": false, "labelFlush": false, "labelOverlap": false}},
         "y": {"field": "s", "type": "quantitative", "scale": {"domain": [0, 100], "nice": false},
               "axis": {"values": [0, 25, 50, 75, 100], "title": "rwPFS (%)", "titleFontSize": 13.5, "titleFontWeight": "bold", "titleColor": "#111111", "titleX": -28.7, "titleBaseline": "middle", "labelFontSize": 11, "labelColor": "#333333", "labelPadding": 2, "tickSize": 3, "tickColor": "#5a5a5a", "domain": false}},
         "color": {"field": "g", "type": "nominal", "scale": {"domain": ["IRS-H", "IRS-L"], "range": ["#145b7b", "#86c4ea"]}, "legend": null}}},
       {"data": {"name": "cC"}, "mark": {"type": "tick", "orient": "vertical", "size": 6, "thickness": 1.2, "opacity": 1},
        "encoding": {"x": {"field": "t", "type": "quantitative"}, "y": {"field": "s", "type": "quantitative"}, "color": {"field": "g", "type": "nominal", "legend": null}}},
       {"data": {"values": [{}]}, "mark": {"type": "text", "align": "right", "baseline": "middle", "fontSize": 10, "fontWeight": "bold", "color": "#111111", "dx": -3},
        "encoding": {"x": {"datum": 24}, "y": {"datum": 95.9}, "text": {"value": "n, Events, Median rwPFS (95% CI)"}}},
       {"data": {"values": [{}]}, "mark": {"type": "text", "align": "right", "baseline": "middle", "fontSize": 10, "color": "#333333", "dx": -3},
        "encoding": {"x": {"datum": 24}, "y": {"datum": 90.2}, "text": {"value": "IRS-H: 120, 40, 23.1 (17.1, 32.9)"}}},
       {"data": {"values": [{}]}, "mark": {"type": "text", "align": "right", "baseline": "middle", "fontSize": 10, "color": "#333333", "dx": -3},
        "encoding": {"x": {"datum": 24}, "y": {"datum": 84.5}, "text": {"value": "IRS-L: 128, 72, 10.2 (8.7, 14.8)"}}},
       {"data": {"values": [{}]}, "mark": {"type": "text", "align": "left", "baseline": "middle", "fontSize": 12.5, "color": "#333333", "dx": 5},
        "encoding": {"x": {"datum": 0}, "y": {"datum": 4.3}, "text": {"value": "HR: 0.52, p = 0.0027"}}},
       {"data": {"values": [{}]}, "mark": {"type": "text", "align": "right", "baseline": "middle", "fontSize": 11, "fontWeight": "bold", "color": "#111111", "dx": -3},
        "encoding": {"x": {"datum": 24}, "y": {"datum": 56.7}, "text": {"value": "IRS-H"}}},
       {"data": {"values": [{}]}, "mark": {"type": "text", "align": "right", "baseline": "middle", "fontSize": 11, "fontWeight": "bold", "color": "#111111", "dx": -3},
        "encoding": {"x": {"datum": 24}, "y": {"datum": 28.4}, "text": {"value": "IRS-L"}}}
      ]},
     {"width": 288, "height": 22, "data": {"name": "riskC"},
      "layer": [
       {"mark": {"type": "text", "fontSize": 9.5, "color": "#333333", "baseline": "middle", "align": "center"},
        "encoding": {
         "x": {"field": "t", "type": "quantitative", "scale": {"domain": [0, 24], "nice": false, "zero": false}, "axis": null},
         "y": {"field": "g", "type": "nominal", "scale": {"type": "point", "domain": ["IRS-L", "IRS-H"], "padding": 0.5},
               "axis": {"title": "At risk", "titleAngle": 0, "titleAlign": "left", "titleBaseline": "middle", "titleX": -37, "titleY": -5.5, "titleFontSize": 11, "titleFontWeight": "bold", "titleColor": "#111111", "labelAlign": "left", "labelBaseline": "middle", "labelPadding": 37, "labelFontSize": 9.5, "labelColor": "#333333", "ticks": false, "tickSize": 0, "domain": false}},
         "text": {"field": "n", "type": "quantitative"}}}
      ]}
    ]},
   {"bounds": "flush", "spacing": 32.3,
    "title": {"text": "d", "anchor": "start", "frame": "group", "dx": -38, "offset": -39.7, "baseline": "alphabetic", "fontSize": 26, "fontWeight": "bold", "color": "#000000"},
    "vconcat": [
     {"width": 297, "height": 198,
      "view": {"stroke": "#5a5a5a", "strokeWidth": 1.3},
      "title": {"text": "Non-Pembro PD-(L)1 mono", "anchor": "middle", "frame": "group", "baseline": "alphabetic", "offset": -20.1, "fontSize": 19.5, "fontWeight": "bold", "color": "#333333"},
      "layer": [
       {"data": {"name": "kmD"}, "mark": {"type": "line", "interpolate": "step-after", "strokeWidth": 2},
        "encoding": {
         "x": {"field": "t", "type": "quantitative", "scale": {"domain": [0, 36], "nice": false, "zero": false},
               "axis": {"values": [0, 6, 12, 18, 24, 30, 36], "title": "Months", "titleFontSize": 14, "titleFontWeight": "bold", "titleColor": "#111111", "titlePadding": 1, "labelFontSize": 11, "labelColor": "#333333", "labelPadding": 1, "tickSize": 3, "tickColor": "#5a5a5a", "domain": false, "labelFlush": false, "labelOverlap": false}},
         "y": {"field": "s", "type": "quantitative", "scale": {"domain": [0, 100], "nice": false},
               "axis": {"values": [0, 25, 50, 75, 100], "title": "Overall Survival (%)", "titleFontSize": 15, "titleFontWeight": "bold", "titleColor": "#111111", "titleX": -31.3, "titleBaseline": "middle", "labelFontSize": 11, "labelColor": "#333333", "labelPadding": 2, "tickSize": 3, "tickColor": "#5a5a5a", "domain": false}},
         "color": {"field": "g", "type": "nominal", "scale": {"domain": ["IRS-H", "IRS-L"], "range": ["#145b7b", "#86c4ea"]}, "legend": null}}},
       {"data": {"name": "cD"}, "mark": {"type": "tick", "orient": "vertical", "size": 6, "thickness": 1.2, "opacity": 1},
        "encoding": {"x": {"field": "t", "type": "quantitative"}, "y": {"field": "s", "type": "quantitative"}, "color": {"field": "g", "type": "nominal", "legend": null}}},
       {"data": {"values": [{}]}, "mark": {"type": "text", "align": "right", "baseline": "middle", "fontSize": 10, "fontWeight": "bold", "color": "#111111", "dx": -3},
        "encoding": {"x": {"datum": 36}, "y": {"datum": 96.3}, "text": {"value": "n, Events, Median OS (95% CI)"}}},
       {"data": {"values": [{}]}, "mark": {"type": "text", "align": "right", "baseline": "middle", "fontSize": 10, "color": "#333333", "dx": -3},
        "encoding": {"x": {"datum": 36}, "y": {"datum": 90.4}, "text": {"value": "IRS-H: 120, 30, 40.4 (32.9, NA)"}}},
       {"data": {"values": [{}]}, "mark": {"type": "text", "align": "right", "baseline": "middle", "fontSize": 10, "color": "#333333", "dx": -3},
        "encoding": {"x": {"datum": 36}, "y": {"datum": 84.8}, "text": {"value": "IRS-L: 128, 54, 21.4 (17.0, 46.8)"}}},
       {"data": {"values": [{}]}, "mark": {"type": "text", "align": "left", "baseline": "middle", "fontSize": 12.5, "color": "#333333", "dx": 5},
        "encoding": {"x": {"datum": 0}, "y": {"datum": 4.4}, "text": {"value": "HR: 0.49, p = 0.0045"}}},
       {"data": {"values": [{}]}, "mark": {"type": "text", "align": "right", "baseline": "middle", "fontSize": 11, "fontWeight": "bold", "color": "#111111", "dx": -2},
        "encoding": {"x": {"datum": 36}, "y": {"datum": 68.7}, "text": {"value": "IRS-H"}}},
       {"data": {"values": [{}]}, "mark": {"type": "text", "align": "right", "baseline": "middle", "fontSize": 11, "fontWeight": "bold", "color": "#111111", "dx": -2},
        "encoding": {"x": {"datum": 36}, "y": {"datum": 45.1}, "text": {"value": "IRS-L"}}}
      ]},
     {"width": 297, "height": 22, "data": {"name": "riskD"},
      "layer": [
       {"mark": {"type": "text", "fontSize": 9.5, "color": "#333333", "baseline": "middle", "align": "center"},
        "encoding": {
         "x": {"field": "t", "type": "quantitative", "scale": {"domain": [0, 36], "nice": false, "zero": false}, "axis": null},
         "y": {"field": "g", "type": "nominal", "scale": {"type": "point", "domain": ["IRS-L", "IRS-H"], "padding": 0.5},
               "axis": {"title": "At risk", "titleAngle": 0, "titleAlign": "left", "titleBaseline": "middle", "titleX": -38, "titleY": -5.5, "titleFontSize": 11, "titleFontWeight": "bold", "titleColor": "#111111", "labelAlign": "left", "labelBaseline": "middle", "labelPadding": 38, "labelFontSize": 9.5, "labelColor": "#333333", "ticks": false, "tickSize": 0, "domain": false}},
         "text": {"field": "n", "type": "quantitative"}}}
      ]}
    ]}
  ]}
 ]},
 {"spacing": 8, "resolve": {"scale": {"size": "independent"}}, "hconcat": [
  {"spacing": 33.5,
   "title": {"text": "e", "anchor": "start", "frame": "group", "dx": -33, "offset": -11, "baseline": "alphabetic", "fontSize": 26, "fontWeight": "bold", "color": "#000000"},
   "vconcat": [
    {"bounds": "flush", "spacing": 21.5, "vconcat": [
     {"width": 308, "height": 48, "data": {"name": "fPR"},
      "title": {"text": "Pembro mono", "anchor": "start", "frame": "group", "dx": -37, "offset": -8.4, "baseline": "alphabetic", "fontSize": 17.4, "fontWeight": "bold", "color": "#333333"},
      "layer": [
       {"transform": [{"filter": "datum.row == 'IRS'"}], "mark": {"type": "rule", "strokeWidth": 14, "color": "#edf1ef"},
        "encoding": {"x": {"datum": -0.2766}, "x2": {"datum": 1.8369},
         "y": {"field": "row", "type": "nominal", "scale": {"type": "point", "domain": ["hdr", "IRS", "TMB"], "padding": 0.548},
               "axis": {"title": "rwPFS", "titleAngle": 0, "titleAlign": "right", "titleBaseline": "middle", "titleX": 6, "titleY": 32.5, "titleFontSize": 12, "titleFontWeight": "bold", "titleColor": "#111111", "labels": false, "ticks": false, "domain": false}}}},
       {"data": {"values": [{}]}, "mark": {"type": "rule", "strokeDash": [3, 2], "color": "#111111", "strokeWidth": 1, "yOffset": -11.5, "y2Offset": 8.5},
        "encoding": {"x": {"datum": 1}, "y": {"datum": "IRS"}, "y2": {"datum": "TMB"}}},
       {"data": {"values": [{}]}, "mark": {"type": "rule", "color": "#555555", "strokeWidth": 1, "yOffset": 8.5},
        "encoding": {"x": {"datum": 0.2}, "x2": {"datum": 1.05}, "y": {"datum": "TMB"}}},
       {"mark": {"type": "rule", "strokeWidth": 1.4, "color": "#222222"},
        "encoding": {"x": {"field": "lo", "type": "quantitative", "scale": {"domain": [-0.3475, 1.8369], "nice": false, "zero": false},
               "axis": {"values": [0.2, 0.4, 0.6, 0.8, 1.0], "format": ".1f", "title": null, "domain": false, "tickSize": -4, "tickColor": "#555555", "labelPadding": 7, "labelFontSize": 9.5, "labelColor": "#999999", "labelFlush": false, "labelOverlap": false}},
         "x2": {"field": "hi"}, "y": {"field": "row", "type": "nominal"}}},
       {"mark": {"type": "tick", "orient": "vertical", "size": 5, "thickness": 1.2, "color": "#222222", "opacity": 1},
        "encoding": {"x": {"field": "lo", "type": "quantitative"}, "y": {"field": "row", "type": "nominal"}}},
       {"mark": {"type": "tick", "orient": "vertical", "size": 5, "thickness": 1.2, "color": "#222222", "opacity": 1},
        "encoding": {"x": {"field": "hi", "type": "quantitative"}, "y": {"field": "row", "type": "nominal"}}},
       {"mark": {"type": "point", "filled": true, "size": 45, "color": "#111111", "opacity": 1},
        "encoding": {"x": {"field": "hr", "type": "quantitative"}, "y": {"field": "row", "type": "nominal"}}},
       {"mark": {"type": "text", "align": "left", "baseline": "middle", "fontSize": 11.5, "color": "#333333"},
        "encoding": {"x": {"datum": -0.2553}, "y": {"field": "row", "type": "nominal"}, "text": {"field": "row"}}},
       {"mark": {"type": "text", "align": "right", "baseline": "middle", "fontSize": 11.5, "color": "#333333"},
        "encoding": {"x": {"datum": 1.8014}, "y": {"field": "row", "type": "nominal"}, "text": {"field": "ci"}}},
       {"data": {"values": [{}]}, "mark": {"type": "text", "align": "left", "baseline": "middle", "fontSize": 11.5, "fontWeight": "bold", "color": "#111111"},
        "encoding": {"x": {"datum": -0.2553}, "y": {"datum": "hdr"}, "text": {"value": "H vs. L"}}},
       {"data": {"values": [{}]}, "mark": {"type": "text", "align": "right", "baseline": "middle", "fontSize": 11.5, "fontWeight": "bold", "color": "#111111"},
        "encoding": {"x": {"datum": 1.0213}, "y": {"datum": "hdr"}, "text": {"value": "n = 421"}}},
       {"data": {"values": [{}]}, "mark": {"type": "text", "align": "right", "baseline": "middle", "fontSize": 11.5, "fontWeight": "bold", "color": "#111111"},
        "encoding": {"x": {"datum": 1.8014}, "y": {"datum": "hdr"}, "text": {"value": "HR: 95% CI"}}}
      ]},
     {"width": 308, "height": 30, "data": {"name": "fPO"},
      "layer": [
       {"transform": [{"filter": "datum.row == 'IRS'"}], "mark": {"type": "rule", "strokeWidth": 14, "color": "#edf1ef"},
        "encoding": {"x": {"datum": -0.4261}, "x2": {"datum": 2.1652},
         "y": {"field": "row", "type": "nominal", "scale": {"type": "point", "domain": ["IRS", "TMB"], "padding": 0.4375},
               "axis": {"title": "OS", "titleAngle": 0, "titleAlign": "right", "titleBaseline": "middle", "titleX": 6, "titleY": 14.5, "titleFontSize": 12, "titleFontWeight": "bold", "titleColor": "#111111", "labels": false, "ticks": false, "domain": false}}}},
       {"data": {"values": [{}]}, "mark": {"type": "rule", "strokeDash": [2, 2], "color": "#aaaaaa", "strokeWidth": 1, "yOffset": -10, "y2Offset": 7},
        "encoding": {"x": {"datum": 1}, "y": {"datum": "IRS"}, "y2": {"datum": "TMB"}}},
       {"data": {"values": [{}]}, "mark": {"type": "rule", "color": "#555555", "strokeWidth": 1, "yOffset": 7},
        "encoding": {"x": {"datum": 0.2}, "x2": {"datum": 1.0}, "y": {"datum": "TMB"}}},
       {"mark": {"type": "rule", "strokeWidth": 1.4, "color": "#222222"},
        "encoding": {"x": {"field": "lo", "type": "quantitative", "scale": {"domain": [-0.513, 2.1652], "nice": false, "zero": false},
               "axis": {"values": [0.2, 0.4, 0.6, 0.8, 1.0], "format": ".1f", "title": null, "domain": false, "tickSize": -4, "tickColor": "#555555", "labelPadding": 7, "labelFontSize": 9.5, "labelColor": "#999999", "labelFlush": false, "labelOverlap": false}},
         "x2": {"field": "hi"}, "y": {"field": "row", "type": "nominal"}}},
       {"mark": {"type": "tick", "orient": "vertical", "size": 5, "thickness": 1.2, "color": "#222222", "opacity": 1},
        "encoding": {"x": {"field": "lo", "type": "quantitative"}, "y": {"field": "row", "type": "nominal"}}},
       {"mark": {"type": "tick", "orient": "vertical", "size": 5, "thickness": 1.2, "color": "#222222", "opacity": 1},
        "encoding": {"x": {"field": "hi", "type": "quantitative"}, "y": {"field": "row", "type": "nominal"}}},
       {"mark": {"type": "point", "filled": true, "size": 45, "color": "#111111", "opacity": 1},
        "encoding": {"x": {"field": "hr", "type": "quantitative"}, "y": {"field": "row", "type": "nominal"}}},
       {"mark": {"type": "text", "align": "left", "baseline": "middle", "fontSize": 11.5, "color": "#333333"},
        "encoding": {"x": {"datum": -0.4}, "y": {"field": "row", "type": "nominal"}, "text": {"field": "row"}}},
       {"mark": {"type": "text", "align": "right", "baseline": "middle", "fontSize": 11.5, "color": "#333333"},
        "encoding": {"x": {"datum": 2.1217}, "y": {"field": "row", "type": "nominal"}, "text": {"field": "ci"}}}
      ]}
    ]},
    {"bounds": "flush", "spacing": 26, "vconcat": [
     {"width": 308, "height": 46, "data": {"name": "fNR"},
      "title": {"text": "Non-Pembro PD-(L)1 mono", "anchor": "start", "frame": "group", "dx": -37, "offset": -8.4, "baseline": "alphabetic", "fontSize": 17.4, "fontWeight": "bold", "color": "#333333"},
      "layer": [
       {"transform": [{"filter": "datum.row == 'IRS'"}], "mark": {"type": "rule", "strokeWidth": 14, "color": "#edf1ef"},
        "encoding": {"x": {"datum": -0.5053}, "x2": {"datum": 2.6316},
         "y": {"field": "row", "type": "nominal", "scale": {"type": "point", "domain": ["hdr", "IRS", "TMB"], "padding": 0.484},
               "axis": {"title": "rwPFS", "titleAngle": 0, "titleAlign": "right", "titleBaseline": "middle", "titleX": 6, "titleY": 31.8, "titleFontSize": 12, "titleFontWeight": "bold", "titleColor": "#111111", "labels": false, "ticks": false, "domain": false}}}},
       {"data": {"values": [{}]}, "mark": {"type": "rule", "strokeDash": [3, 2], "color": "#111111", "strokeWidth": 1, "yOffset": -7, "y2Offset": 7.5},
        "encoding": {"x": {"datum": 1}, "y": {"datum": "IRS"}, "y2": {"datum": "TMB"}}},
       {"data": {"values": [{}]}, "mark": {"type": "rule", "color": "#555555", "strokeWidth": 1, "yOffset": 7.5},
        "encoding": {"x": {"datum": 0.2}, "x2": {"datum": 1.4}, "y": {"datum": "TMB"}}},
       {"mark": {"type": "rule", "strokeWidth": 1.4, "color": "#222222"},
        "encoding": {"x": {"field": "lo", "type": "quantitative", "scale": {"domain": [-0.6105, 2.6316], "nice": false, "zero": false},
               "axis": {"values": [0.2, 0.4, 0.6, 0.8, 1.0, 1.2, 1.4], "format": ".1f", "title": null, "domain": false, "tickSize": -4, "tickColor": "#555555", "labelPadding": 7, "labelFontSize": 9.5, "labelColor": "#999999", "labelFlush": false, "labelOverlap": false}},
         "x2": {"field": "hi"}, "y": {"field": "row", "type": "nominal"}}},
       {"mark": {"type": "tick", "orient": "vertical", "size": 5, "thickness": 1.2, "color": "#222222", "opacity": 1},
        "encoding": {"x": {"field": "lo", "type": "quantitative"}, "y": {"field": "row", "type": "nominal"}}},
       {"mark": {"type": "tick", "orient": "vertical", "size": 5, "thickness": 1.2, "color": "#222222", "opacity": 1},
        "encoding": {"x": {"field": "hi", "type": "quantitative"}, "y": {"field": "row", "type": "nominal"}}},
       {"mark": {"type": "point", "filled": true, "size": 45, "color": "#111111", "opacity": 1},
        "encoding": {"x": {"field": "hr", "type": "quantitative"}, "y": {"field": "row", "type": "nominal"}}},
       {"mark": {"type": "text", "align": "left", "baseline": "middle", "fontSize": 11.5, "color": "#333333"},
        "encoding": {"x": {"datum": -0.4737}, "y": {"field": "row", "type": "nominal"}, "text": {"field": "row"}}},
       {"mark": {"type": "text", "align": "right", "baseline": "middle", "fontSize": 11.5, "color": "#333333"},
        "encoding": {"x": {"datum": 2.5789}, "y": {"field": "row", "type": "nominal"}, "text": {"field": "ci"}}},
       {"data": {"values": [{}]}, "mark": {"type": "text", "align": "left", "baseline": "middle", "fontSize": 11.5, "fontWeight": "bold", "color": "#111111"},
        "encoding": {"x": {"datum": -0.4737}, "y": {"datum": "hdr"}, "text": {"value": "H vs. L"}}},
       {"data": {"values": [{}]}, "mark": {"type": "text", "align": "right", "baseline": "middle", "fontSize": 11.5, "fontWeight": "bold", "color": "#111111"},
        "encoding": {"x": {"datum": 1.4105}, "y": {"datum": "hdr"}, "text": {"value": "n = 248"}}},
       {"data": {"values": [{}]}, "mark": {"type": "text", "align": "right", "baseline": "middle", "fontSize": 11.5, "fontWeight": "bold", "color": "#111111"},
        "encoding": {"x": {"datum": 2.5789}, "y": {"datum": "hdr"}, "text": {"value": "HR: 95% CI"}}}
      ]},
     {"width": 308, "height": 28.5, "data": {"name": "fNO"},
      "layer": [
       {"transform": [{"filter": "datum.row == 'IRS'"}], "mark": {"type": "rule", "strokeWidth": 14, "color": "#edf1ef"},
        "encoding": {"x": {"datum": -0.5393}, "x2": {"datum": 2.809},
         "y": {"field": "row", "type": "nominal", "scale": {"type": "point", "domain": ["IRS", "TMB"], "padding": 0.419},
               "axis": {"title": "OS", "titleAngle": 0, "titleAlign": "right", "titleBaseline": "middle", "titleX": 6, "titleY": 13.2, "titleFontSize": 12, "titleFontWeight": "bold", "titleColor": "#111111", "labels": false, "ticks": false, "domain": false}}}},
       {"data": {"values": [{}]}, "mark": {"type": "rule", "strokeDash": [3, 2], "color": "#111111", "strokeWidth": 1, "yOffset": -13, "y2Offset": 6.5},
        "encoding": {"x": {"datum": 1}, "y": {"datum": "IRS"}, "y2": {"datum": "TMB"}}},
       {"data": {"values": [{}]}, "mark": {"type": "rule", "color": "#555555", "strokeWidth": 1, "yOffset": 6.5},
        "encoding": {"x": {"datum": 0.2}, "x2": {"datum": 1.6}, "y": {"datum": "TMB"}}},
       {"mark": {"type": "rule", "strokeWidth": 1.4, "color": "#222222"},
        "encoding": {"x": {"field": "lo", "type": "quantitative", "scale": {"domain": [-0.6517, 2.809], "nice": false, "zero": false},
               "axis": {"values": [0.2, 0.4, 0.6, 0.8, 1.0, 1.2, 1.4, 1.6], "format": ".1f", "title": null, "domain": false, "tickSize": -4, "tickColor": "#555555", "labelPadding": 7, "labelFontSize": 9.5, "labelColor": "#999999", "labelFlush": false, "labelOverlap": false}},
         "x2": {"field": "hi"}, "y": {"field": "row", "type": "nominal"}}},
       {"mark": {"type": "tick", "orient": "vertical", "size": 5, "thickness": 1.2, "color": "#222222", "opacity": 1},
        "encoding": {"x": {"field": "lo", "type": "quantitative"}, "y": {"field": "row", "type": "nominal"}}},
       {"mark": {"type": "tick", "orient": "vertical", "size": 5, "thickness": 1.2, "color": "#222222", "opacity": 1},
        "encoding": {"x": {"field": "hi", "type": "quantitative"}, "y": {"field": "row", "type": "nominal"}}},
       {"mark": {"type": "point", "filled": true, "size": 45, "color": "#111111", "opacity": 1},
        "encoding": {"x": {"field": "hr", "type": "quantitative"}, "y": {"field": "row", "type": "nominal"}}},
       {"mark": {"type": "text", "align": "left", "baseline": "middle", "fontSize": 11.5, "color": "#333333"},
        "encoding": {"x": {"datum": -0.5056}, "y": {"field": "row", "type": "nominal"}, "text": {"field": "row"}}},
       {"mark": {"type": "text", "align": "right", "baseline": "middle", "fontSize": 11.5, "color": "#333333"},
        "encoding": {"x": {"datum": 2.7528}, "y": {"field": "row", "type": "nominal"}, "text": {"field": "ci"}}}
      ]}
    ]}
   ]},
  {"bounds": "flush", "spacing": 15, "resolve": {"scale": {"size": "independent"}}, "hconcat": [
   {"width": 190, "height": 282, "data": {"name": "vE"},
    "resolve": {"scale": {"size": "independent"}},
    "layer": [
     {"transform": [{"filter": "datum.d == 'e1' && datum.set == 'TMB-H'"}], "mark": {"type": "point", "shape": "circle", "filled": true, "opacity": 1, "color": "#f0888d", "strokeWidth": 0},
      "encoding": {"x": {"field": "cx", "type": "quantitative", "scale": {"domain": [0, 190], "nice": false, "zero": false}, "axis": null},
                   "y": {"field": "cy", "type": "quantitative", "scale": {"domain": [0, 282], "nice": false, "zero": false, "reverse": true}, "axis": null},
                   "size": {"field": "n", "type": "quantitative", "scale": {"domain": [0, 194], "range": [0, 12996]}, "legend": null}}},
     {"transform": [{"filter": "datum.d == 'e1' && datum.set == 'IRS-H'"}], "mark": {"type": "point", "shape": "circle", "filled": true, "opacity": 0.53, "color": "#06068a", "strokeWidth": 0},
      "encoding": {"x": {"field": "cx", "type": "quantitative", "axis": null}, "y": {"field": "cy", "type": "quantitative", "axis": null},
                   "size": {"field": "n", "type": "quantitative", "scale": {"domain": [0, 194], "range": [0, 12996]}, "legend": null}}},
     {"transform": [{"filter": "datum.d == 'e2' && datum.set == 'TMB-H'"}], "mark": {"type": "point", "shape": "circle", "filled": true, "opacity": 1, "color": "#f0888d", "strokeWidth": 0},
      "encoding": {"x": {"field": "cx", "type": "quantitative", "axis": null}, "y": {"field": "cy", "type": "quantitative", "axis": null},
                   "size": {"field": "n", "type": "quantitative", "scale": {"domain": [0, 120], "range": [0, 11881]}, "legend": null}}},
     {"transform": [{"filter": "datum.d == 'e2' && datum.set == 'IRS-H'"}], "mark": {"type": "point", "shape": "circle", "filled": true, "opacity": 0.53, "color": "#06068a", "strokeWidth": 0},
      "encoding": {"x": {"field": "cx", "type": "quantitative", "axis": null}, "y": {"field": "cy", "type": "quantitative", "axis": null},
                   "size": {"field": "n", "type": "quantitative", "scale": {"domain": [0, 120], "range": [0, 11881]}, "legend": null}}},
     {"transform": [{"filter": "datum.d == 'e1' && datum.set == 'IRS-H'"}], "mark": {"type": "text", "align": "center", "baseline": "middle", "fontSize": 12.5, "fontWeight": "bold", "color": "#1a1a1a"},
      "encoding": {"x": {"datum": 26, "axis": null}, "y": {"datum": -20.5, "axis": null}, "text": {"field": "set"}}},
     {"transform": [{"filter": "datum.d == 'e1' && datum.set == 'IRS-H'"}], "mark": {"type": "text", "align": "center", "baseline": "middle", "fontSize": 9.5, "fontWeight": "bold", "color": "#1a1a1a"},
      "encoding": {"x": {"datum": 26, "axis": null}, "y": {"datum": -7.2, "axis": null}, "text": {"field": "nl"}}},
     {"transform": [{"filter": "datum.d == 'e1' && datum.set == 'IRS-H'"}], "mark": {"type": "text", "align": "center", "baseline": "middle", "fontSize": 9.5, "fontWeight": "bold", "color": "#1a1a1a"},
      "encoding": {"x": {"datum": 26, "axis": null}, "y": {"datum": 4.5, "axis": null}, "text": {"field": "pct"}}},
     {"transform": [{"filter": "datum.d == 'e1' && datum.set == 'TMB-H'"}], "mark": {"type": "text", "align": "center", "baseline": "middle", "fontSize": 12.5, "fontWeight": "bold", "color": "#1a1a1a"},
      "encoding": {"x": {"datum": 151, "axis": null}, "y": {"datum": -20.5, "axis": null}, "text": {"field": "set"}}},
     {"transform": [{"filter": "datum.d == 'e1' && datum.set == 'TMB-H'"}], "mark": {"type": "text", "align": "center", "baseline": "middle", "fontSize": 9.5, "fontWeight": "bold", "color": "#1a1a1a"},
      "encoding": {"x": {"datum": 151, "axis": null}, "y": {"datum": -7.2, "axis": null}, "text": {"field": "nl"}}},
     {"transform": [{"filter": "datum.d == 'e1' && datum.set == 'TMB-H'"}], "mark": {"type": "text", "align": "center", "baseline": "middle", "fontSize": 9.5, "fontWeight": "bold", "color": "#1a1a1a"},
      "encoding": {"x": {"datum": 151, "axis": null}, "y": {"datum": 4.5, "axis": null}, "text": {"field": "pct"}}},
     {"transform": [{"filter": "datum.d == 'e2' && datum.set == 'IRS-H'"}], "mark": {"type": "text", "align": "left", "baseline": "middle", "fontSize": 12.5, "fontWeight": "bold", "color": "#1a1a1a"},
      "encoding": {"x": {"datum": 23, "axis": null}, "y": {"datum": 148.5, "axis": null}, "text": {"field": "set"}}},
     {"transform": [{"filter": "datum.d == 'e2' && datum.set == 'IRS-H'"}], "mark": {"type": "text", "align": "left", "baseline": "middle", "fontSize": 9.5, "fontWeight": "bold", "color": "#1a1a1a"},
      "encoding": {"x": {"datum": 23, "axis": null}, "y": {"datum": 162.5, "axis": null}, "text": {"field": "nl"}}},
     {"transform": [{"filter": "datum.d == 'e2' && datum.set == 'IRS-H'"}], "mark": {"type": "text", "align": "left", "baseline": "middle", "fontSize": 9.5, "fontWeight": "bold", "color": "#1a1a1a"},
      "encoding": {"x": {"datum": 23, "axis": null}, "y": {"datum": 173.5, "axis": null}, "text": {"field": "pct"}}},
     {"transform": [{"filter": "datum.d == 'e2' && datum.set == 'TMB-H'"}], "mark": {"type": "text", "align": "right", "baseline": "middle", "fontSize": 12.5, "fontWeight": "bold", "color": "#1a1a1a"},
      "encoding": {"x": {"datum": 165, "axis": null}, "y": {"datum": 148.5, "axis": null}, "text": {"field": "set"}}},
     {"transform": [{"filter": "datum.d == 'e2' && datum.set == 'TMB-H'"}], "mark": {"type": "text", "align": "right", "baseline": "middle", "fontSize": 9.5, "fontWeight": "bold", "color": "#1a1a1a"},
      "encoding": {"x": {"datum": 165, "axis": null}, "y": {"datum": 162.5, "axis": null}, "text": {"field": "nl"}}},
     {"transform": [{"filter": "datum.d == 'e2' && datum.set == 'TMB-H'"}], "mark": {"type": "text", "align": "right", "baseline": "middle", "fontSize": 9.5, "fontWeight": "bold", "color": "#1a1a1a"},
      "encoding": {"x": {"datum": 165, "axis": null}, "y": {"datum": 173.5, "axis": null}, "text": {"field": "pct"}}}
    ]},
   {"width": 232, "height": 180, "data": {"name": "vF"},
    "title": {"text": "f", "anchor": "start", "frame": "group", "dx": 11, "offset": -16, "baseline": "alphabetic", "fontSize": 26, "fontWeight": "bold", "color": "#000000"},
    "layer": [
     {"transform": [{"filter": "datum.set == 'IRS-H'"}], "mark": {"type": "point", "shape": "circle", "filled": true, "opacity": 1, "color": "#7b7bc1", "strokeWidth": 0},
      "encoding": {"x": {"field": "cx", "type": "quantitative", "scale": {"domain": [0, 232], "nice": false, "zero": false}, "axis": null},
                   "y": {"field": "cy", "type": "quantitative", "scale": {"domain": [0, 180], "nice": false, "zero": false, "reverse": true}, "axis": null},
                   "size": {"field": "n", "type": "quantitative", "scale": {"domain": [0, 5101], "range": [0, 11664]}, "legend": null}}},
     {"transform": [{"filter": "datum.set == 'TMB-H'"}], "mark": {"type": "point", "shape": "circle", "filled": true, "opacity": 0.6, "color": "#de3040", "strokeWidth": 0},
      "encoding": {"x": {"field": "cx", "type": "quantitative", "axis": null}, "y": {"field": "cy", "type": "quantitative", "axis": null}, "size": {"field": "n", "type": "quantitative", "legend": null}}},
     {"data": {"values": [{}]}, "mark": {"type": "text", "align": "center", "baseline": "middle", "fontSize": 17.3, "fontWeight": "bold", "color": "#333333"},
      "encoding": {"x": {"datum": 128, "axis": null}, "y": {"datum": -16.5, "axis": null}, "text": {"value": "Overall SCMD population"}}},
     {"data": {"values": [{}]}, "mark": {"type": "text", "align": "center", "baseline": "middle", "fontSize": 17.3, "fontWeight": "bold", "color": "#333333"},
      "encoding": {"x": {"datum": 128, "axis": null}, "y": {"datum": 4.5, "axis": null}, "text": {"value": "n=24,463"}}},
     {"transform": [{"filter": "datum.set == 'IRS-H'"}], "mark": {"type": "text", "align": "center", "baseline": "middle", "fontSize": 12.5, "fontWeight": "bold", "color": "#1a1a1a"},
      "encoding": {"x": {"datum": 66, "axis": null}, "y": {"datum": 39.5, "axis": null}, "text": {"field": "set"}}},
     {"transform": [{"filter": "datum.set == 'IRS-H'"}], "mark": {"type": "text", "align": "center", "baseline": "middle", "fontSize": 9.5, "fontWeight": "bold", "color": "#1a1a1a"},
      "encoding": {"x": {"datum": 66, "axis": null}, "y": {"datum": 52.2, "axis": null}, "text": {"field": "nl"}}},
     {"transform": [{"filter": "datum.set == 'IRS-H'"}], "mark": {"type": "text", "align": "center", "baseline": "middle", "fontSize": 9.5, "fontWeight": "bold", "color": "#1a1a1a"},
      "encoding": {"x": {"datum": 66, "axis": null}, "y": {"datum": 64.5, "axis": null}, "text": {"field": "pct"}}},
     {"transform": [{"filter": "datum.set == 'TMB-H'"}], "mark": {"type": "text", "align": "center", "baseline": "middle", "fontSize": 12.5, "fontWeight": "bold", "color": "#1a1a1a"},
      "encoding": {"x": {"datum": 191, "axis": null}, "y": {"datum": 39.5, "axis": null}, "text": {"field": "set"}}},
     {"transform": [{"filter": "datum.set == 'TMB-H'"}], "mark": {"type": "text", "align": "center", "baseline": "middle", "fontSize": 9.5, "fontWeight": "bold", "color": "#1a1a1a"},
      "encoding": {"x": {"datum": 191, "axis": null}, "y": {"datum": 52.2, "axis": null}, "text": {"field": "nl"}}},
     {"transform": [{"filter": "datum.set == 'TMB-H'"}], "mark": {"type": "text", "align": "center", "baseline": "middle", "fontSize": 9.5, "fontWeight": "bold", "color": "#1a1a1a"},
      "encoding": {"x": {"datum": 191, "axis": null}, "y": {"datum": 64.5, "axis": null}, "text": {"field": "pct"}}}
    ]}
  ]}
 ]}
]
}
